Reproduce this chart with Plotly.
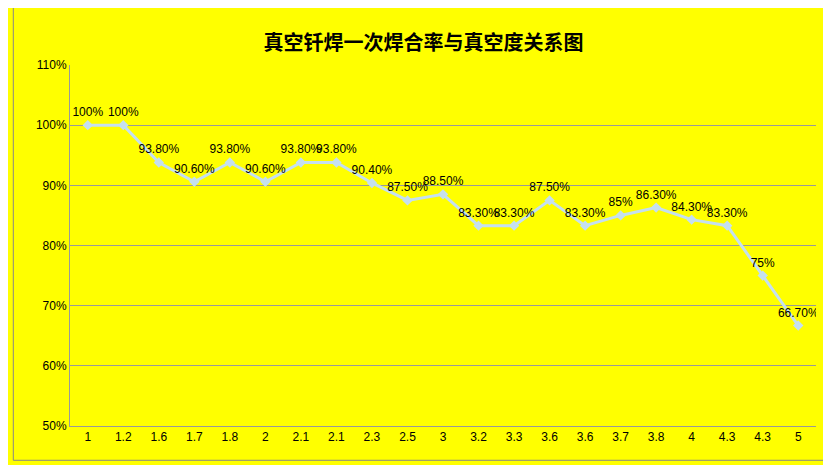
import plotly.graph_objects as go

categories = ["1","1.2","1.6","1.7","1.8","2","2.1","2.1","2.3","2.5","3","3.2","3.3","3.6","3.6","3.7","3.8","4","4.3","4.3","5"]
values = [100,100,93.8,90.6,93.8,90.6,93.8,93.8,90.4,87.5,88.5,83.3,83.3,87.5,83.3,85,86.3,84.3,83.3,75,66.7]
labels = ["100%","100%","93.80%","90.60%","93.80%","90.60%","93.80%","93.80%","90.40%","87.50%","88.50%","83.30%","83.30%","87.50%","83.30%","85%","86.30%","84.30%","83.30%","75%","66.70%"]

idx = list(range(len(categories)))
fig = go.Figure(go.Scatter(
    x=idx, y=values, mode="lines+markers+text", text=labels, textposition="top center",
    textfont=dict(size=12, color="#000000"),
    line=dict(color="#C5E0F0", width=3),
    marker=dict(symbol="diamond", size=8, color="#C5E0F0"),
))
fig.update_layout(
    width=831, height=465, paper_bgcolor="#FFFF00", plot_bgcolor="#FFFF00",
    font=dict(family="Liberation Sans, Noto Sans CJK SC", size=12, color="#000"),
    title=dict(text="<b>真空钎焊一次焊合率与真空度关系图</b>", x=0.5, y=0.94,
               font=dict(size=20, family="Noto Sans CJK SC")),
    margin=dict(l=62, r=23, t=57, b=47), showlegend=False,
    xaxis=dict(tickmode="array", tickvals=idx, ticktext=categories, range=[-0.5, len(idx)-0.5],
               showgrid=False, showline=True, linecolor="#999", ticks="", zeroline=False),
    yaxis=dict(range=[50, 110], dtick=10, ticksuffix="%", gridcolor="#999", showline=True,
               linecolor="#999", zeroline=False),
    shapes=[dict(type="rect", xref="paper", yref="paper", x0=-0.076, x1=1.026, y0=-0.095, y1=1.165,
                 line=dict(color="#888", width=1))],
)
fig.write_html("out.html")
